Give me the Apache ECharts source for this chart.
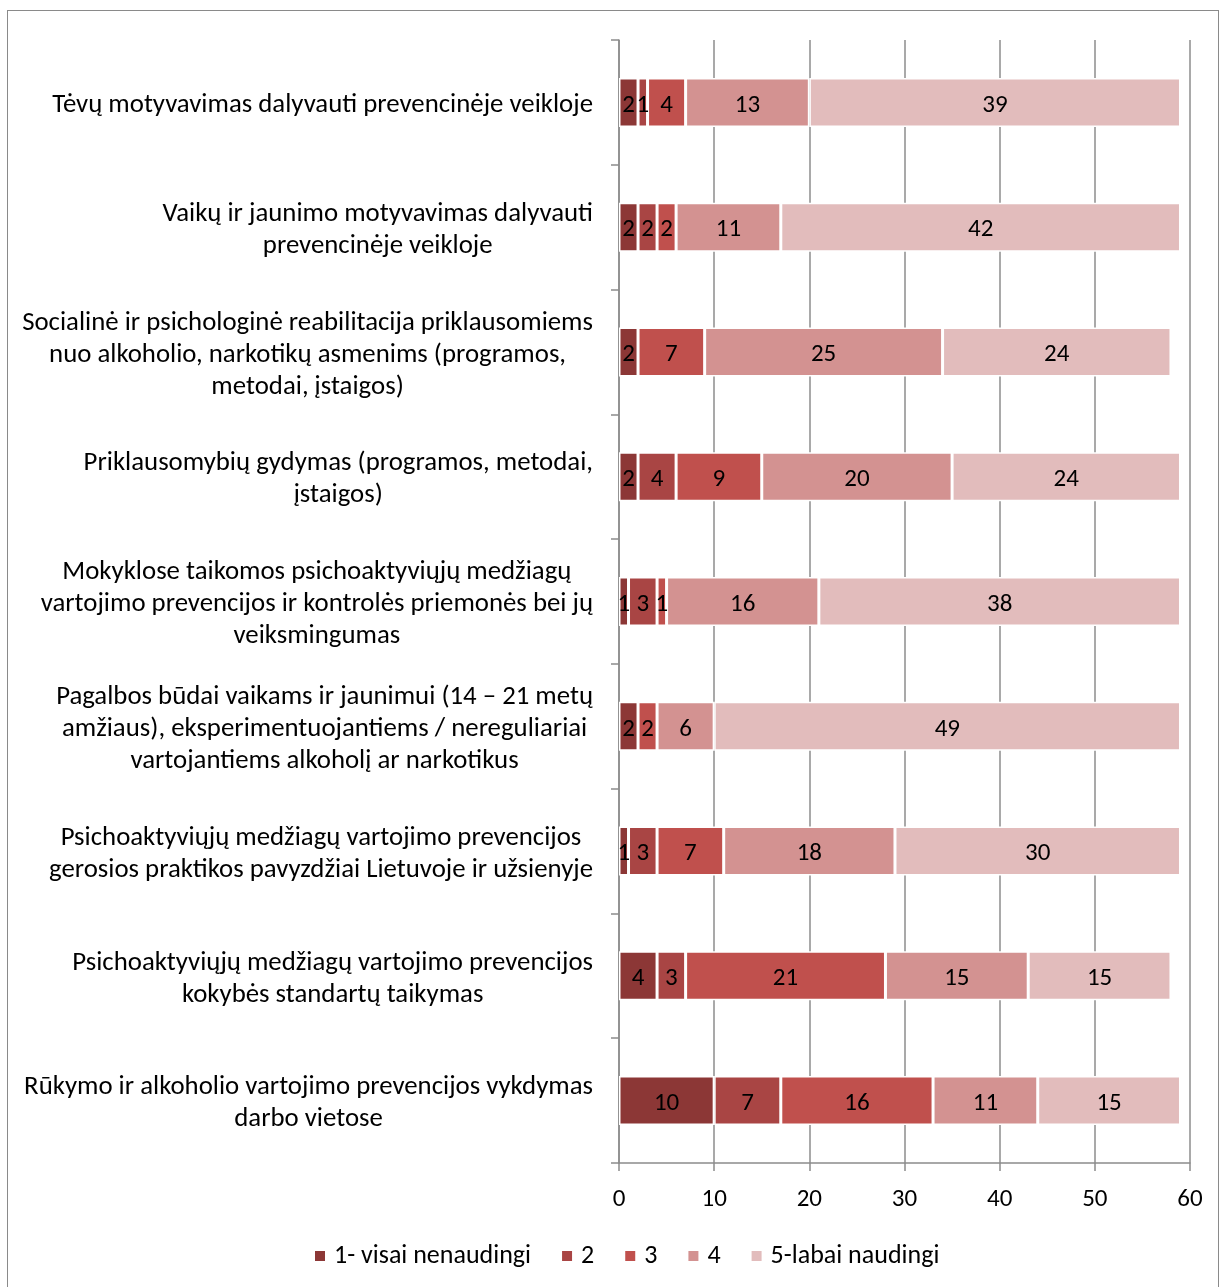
<!DOCTYPE html>
<html><head><meta charset="utf-8">
<script src="https://cdn.jsdelivr.net/npm/echarts@6/dist/echarts.min.js"></script>
<style>
html,body{margin:0;padding:0;background:#fff;}
#frame{position:absolute;left:7px;top:10px;width:1212px;height:1290px;border:1px solid #8a8a8a;box-sizing:border-box;}
#chart{position:absolute;left:0;top:0;width:1224px;height:1287px;}
</style></head>
<body>
<div id="frame"></div>
<div id="chart"></div>
<script>
const categories = [
  "Tėvų motyvavimas dalyvauti prevencinėje veikloje",
  "Vaikų ir jaunimo motyvavimas dalyvauti\nprevencinėje veikloje",
  "Socialinė ir psichologinė reabilitacija priklausomiems\nnuo alkoholio, narkotikų asmenims (programos,\nmetodai, įstaigos)",
  "Priklausomybių gydymas (programos, metodai,\nįstaigos)",
  "Mokyklose taikomos psichoaktyviųjų medžiagų\nvartojimo prevencijos ir kontrolės priemonės bei jų\nveiksmingumas",
  "Pagalbos būdai vaikams ir jaunimui (14 – 21 metų\namžiaus), eksperimentuojantiems / nereguliariai\nvartojantiems alkoholį ar narkotikus",
  "Psichoaktyviųjų medžiagų vartojimo prevencijos\ngerosios praktikos pavyzdžiai Lietuvoje ir užsienyje",
  "Psichoaktyviųjų medžiagų vartojimo prevencijos\nkokybės standartų taikymas",
  "Rūkymo ir alkoholio vartojimo prevencijos vykdymas\ndarbo vietose"
];
const seriesNames = ["1- visai nenaudingi", "2", "3", "4", "5-labai naudingi"];
const s1 = [2, 2, 2, 2, 1, 2, 1, 4, 10];
const s2 = [1, 2, 0, 4, 3, 0, 3, 3, 7];
const s3 = [4, 2, 7, 9, 1, 2, 7, 21, 16];
const s4 = [13, 11, 25, 20, 16, 6, 18, 15, 11];
const s5 = [39, 42, 24, 24, 38, 49, 30, 15, 15];
const xTicks = [0, 10, 20, 30, 40, 50, 60];
const colors = ["#8c3736", "#a94544", "#c0504d", "#d39291", "#e2bcbc"];

const FONT = "Carlito, 'Open Sans', sans-serif";
const all = [s1, s2, s3, s4, s5];
const chart = echarts.init(document.getElementById('chart'), null, {renderer: 'canvas'});
chart.setOption({
  animation: false,
  color: colors,
  textStyle: {fontFamily: FONT},
  grid: {left: 619, right: 34, top: 40, bottom: 124, containLabel: false},
  legend: {
    data: seriesNames, top: 1238, left: 308,
    itemWidth: 12, itemHeight: 12, itemGap: 29, icon: 'rect',
    textStyle: {fontSize: 26, color: '#000', fontFamily: FONT, padding: [0, 0, 0, 3]}
  },
  xAxis: {
    type: 'value', min: xTicks[0], max: xTicks[xTicks.length - 1], interval: 10,
    axisLine: {show: true, lineStyle: {color: '#8c8c8c', width: 1.5}},
    axisTick: {show: true, length: 8, lineStyle: {color: '#8c8c8c', width: 1.5}},
    splitLine: {show: true, lineStyle: {color: '#8c8c8c', width: 1.5}},
    axisLabel: {fontSize: 25, color: '#000', margin: 24, fontFamily: FONT}
  },
  yAxis: {
    type: 'category', data: categories, inverse: true,
    axisLine: {show: true, lineStyle: {color: '#8c8c8c', width: 1.5}},
    axisTick: {show: true, length: 8, alignWithLabel: false, lineStyle: {color: '#8c8c8c', width: 1.5}},
    axisLabel: {
      fontSize: 27, color: '#000', margin: 26, fontFamily: FONT, lineHeight: 32,
      padding: [6, 0, 0, 0],
      formatter: v => v.split('\n').map(l => '{c|' + l + '}').join('\n'),
      rich: {c: {align: 'center', fontSize: 26.8, lineHeight: 32, color: '#000', fontFamily: FONT}}
    }
  },
  series: all.map((arr, i) => ({
    name: seriesNames[i], type: 'bar', stack: 'total', barWidth: 49,
    data: arr.map(v => v === 0 ? '-' : v),
    itemStyle: {color: colors[i], borderColor: '#fff', borderWidth: 1.5},
    label: {show: true, position: 'inside', offset: [0, 3], fontSize: 25, color: '#000', fontFamily: FONT}
  }))
});
</script>
</body></html>
